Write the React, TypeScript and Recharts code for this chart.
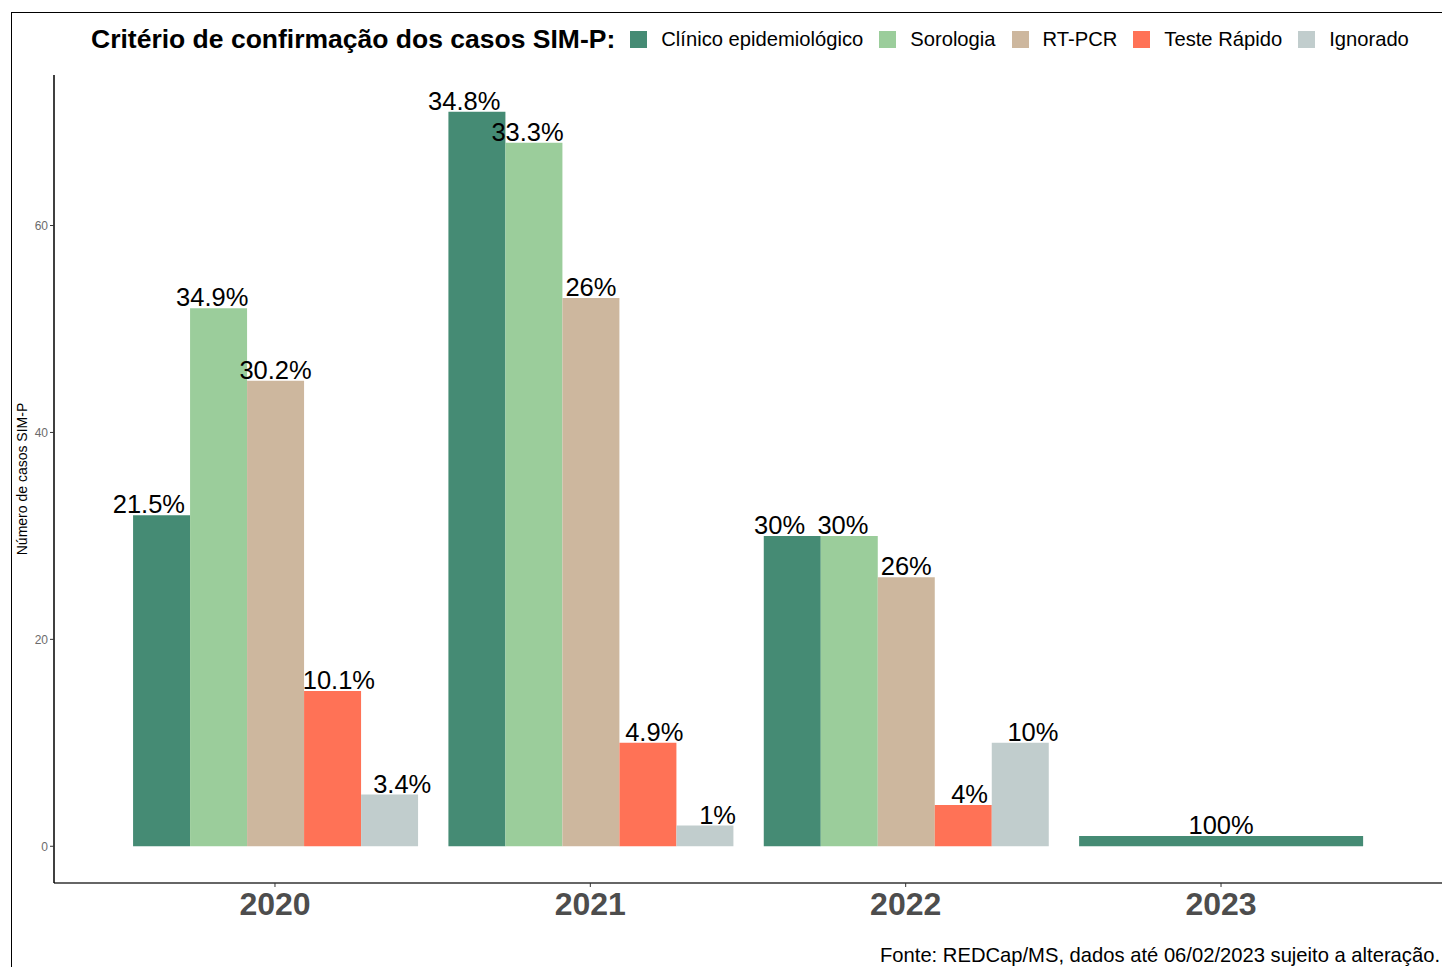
import React from "react";
import { BarChart, Bar, XAxis, YAxis, LabelList } from "recharts";

const years = ["2020", "2021", "2022", "2023"];

const clinico = [32, 71, 30, 1];
const sorologia = [52, 68, 30, null];
const rtpcr = [45, 53, 26, null];
const testeRapido = [15, 10, 4, null];
const ignorado = [5, 2, 10, null];

const series = [
  { key: "clinico", name: "Clínico epidemiológico", color: "#458B74", values: clinico },
  { key: "sorologia", name: "Sorologia", color: "#9BCD9B", values: sorologia },
  { key: "rtpcr", name: "RT-PCR", color: "#CDB79E", values: rtpcr },
  { key: "teste", name: "Teste Rápido", color: "#FF7256", values: testeRapido },
  { key: "ignorado", name: "Ignorado", color: "#C1CDCD", values: ignorado },
];

const yTicks = [0, 20, 40, 60];

const fmtPct = (v: number, total: number) =>
  String(Math.round((v / total) * 1000) / 10) + "%";

// one row per year; a year with a single criterion gets a full-width bar (as ggplot dodge does)
const data = years.map((year, i) => {
  const present = series.filter((s) => s.values[i] != null);
  const total = present.reduce((acc, s) => acc + (s.values[i] as number), 0);
  const row: any = { year };
  if (present.length === 1) {
    const s = present[0];
    row.solo = s.values[i];
    row.soloPct = fmtPct(s.values[i] as number, total);
  } else {
    series.forEach((s) => {
      const v = s.values[i];
      row[s.key] = v;
      row[s.key + "Pct"] = v == null ? null : fmtPct(v, total);
    });
  }
  return row;
});

const FONT = '"Liberation Sans", Arial, Helvetica, sans-serif';

// labels are dodged a bit wider than the bars (width 1 vs 0.9 in the original)
const makeLabel = (idx: number, n: number) => (props: any) => {
  const { x, y, width, value } = props;
  if (value == null) return null;
  const cx = Number(x) + Number(width) / 2 + (idx - (n - 1) / 2) * (Number(width) / 9);
  return (
    <text
      x={cx}
      y={Number(y) - 2}
      textAnchor="middle"
      fontSize={25.5}
      fontFamily={FONT}
      fill="#000"
    >
      {value}
    </text>
  );
};

const YearTick = (props: any) => {
  const { x, y, payload } = props;
  return (
    <text
      x={x}
      y={y + 26}
      textAnchor="middle"
      fontSize={32}
      fontWeight="bold"
      fontFamily={FONT}
      fill="#4D4D4D"
    >
      {payload.value}
    </text>
  );
};

export default function App() {
  return (
    <div
      style={{
        position: "fixed",
        left: 0,
        top: 0,
        width: 1442,
        height: 967,
        background: "#fff",
        overflow: "hidden",
        fontFamily: FONT,
      }}
    >
      <div
        style={{
          position: "absolute",
          left: 11,
          top: 12,
          width: 1500,
          height: 1000,
          borderLeft: "1.5px solid #000",
          borderTop: "1.5px solid #000",
        }}
      />
      <BarChart
        width={1442}
        height={967}
        data={data}
        margin={{ top: 75, right: 0, bottom: 0, left: 0 }}
        barCategoryGap="5%"
        barGap={0}
      >
        <XAxis
          xAxisId="a"
          dataKey="year"
          height={84}
          padding={{ left: 63.3, right: 63.3 }}
          tickSize={4}
          tickLine={{ stroke: "#333" }}
          axisLine={{ stroke: "#333", strokeWidth: 1.5 }}
          tick={<YearTick />}
        />
        <XAxis
          xAxisId="b"
          dataKey="year"
          hide
          padding={{ left: 63.3, right: 63.3 }}
        />
        <YAxis
          type="number"
          domain={[-3.55, 74.55]}
          allowDataOverflow
          ticks={yTicks}
          width={54}
          tickSize={4}
          tickMargin={2}
          tick={{ fontSize: 12, fill: "#6b6b6b", fontFamily: FONT }}
          tickLine={{ stroke: "#333" }}
          axisLine={{ stroke: "#000", strokeWidth: 1.5 }}
        />
        {series.map((s, i) => (
          <Bar
            key={s.key}
            xAxisId="a"
            dataKey={s.key}
            fill={s.color}
            isAnimationActive={false}
          >
            <LabelList dataKey={s.key + "Pct"} content={makeLabel(i, series.length)} />
          </Bar>
        ))}
        <Bar xAxisId="b" dataKey="solo" fill={series[0].color} isAnimationActive={false}>
          <LabelList dataKey="soloPct" content={makeLabel(0, 1)} />
        </Bar>
      </BarChart>

      <div
        style={{
          position: "absolute",
          left: 91,
          top: 23,
          height: 32,
          display: "flex",
          alignItems: "center",
          whiteSpace: "nowrap",
        }}
      >
        <span style={{ fontSize: 26.5, fontWeight: "bold", color: "#000", marginRight: 15 }}>
          Critério de confirmação dos casos SIM-P:
        </span>
        {series.map((s) => (
          <span key={s.key} style={{ display: "flex", alignItems: "center", marginRight: 16 }}>
            <span
              style={{
                display: "inline-block",
                width: 17,
                height: 17,
                background: s.color,
                marginRight: 14,
              }}
            />
            <span style={{ fontSize: 20.2, color: "#000" }}>{s.name}</span>
          </span>
        ))}
      </div>

      <div
        style={{
          position: "absolute",
          left: 22,
          top: 479,
          transform: "translate(-50%, -50%) rotate(-90deg)",
          fontSize: 14,
          whiteSpace: "nowrap",
          color: "#000",
        }}
      >
        Número de casos SIM-P
      </div>

      <div
        style={{
          position: "absolute",
          right: 2,
          top: 944,
          fontSize: 20.2,
          lineHeight: "22px",
          whiteSpace: "nowrap",
          color: "#000",
        }}
      >
        Fonte: REDCap/MS, dados até 06/02/2023 sujeito a alteração.
      </div>
    </div>
  );
}
